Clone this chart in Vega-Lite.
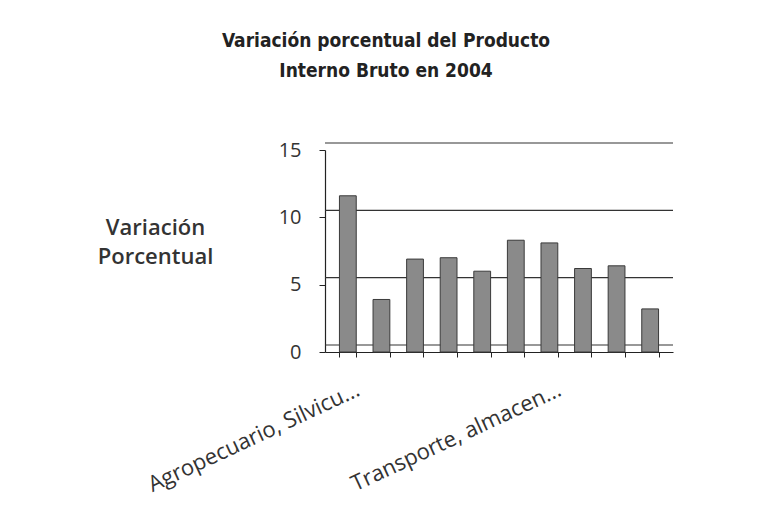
{
  "$schema": "https://vega.github.io/schema/vega-lite/v6.json",
  "autosize": "none",
  "width": 348,
  "height": 202,
  "padding": {"left": 325, "top": 150, "right": 84, "bottom": 154},
  "background": "white",
  "title": {
    "text": ["Variación porcentual del Producto", "Interno Bruto en 2004"],
    "font": "DejaVu Sans Condensed, Roboto, sans-serif",
    "fontWeight": "bold",
    "fontSize": 19,
    "color": "#222",
    "lineHeight": 30,
    "anchor": "middle",
    "frame": "group",
    "dx": -113,
    "offset": 59
  },
  "datasets": {
    "pib": [
      {"sector": "Agropecuario, Silvicultura y Pesca", "variacion": 11.6},
      {"sector": "Minería", "variacion": 3.9},
      {"sector": "Manufactura", "variacion": 6.9},
      {"sector": "Electricidad y Agua", "variacion": 7.0},
      {"sector": "Construcción", "variacion": 6.0},
      {"sector": "Comercio", "variacion": 8.3},
      {"sector": "Transporte, almacenamiento y comunicaciones", "variacion": 8.1},
      {"sector": "Establecimientos financieros", "variacion": 6.2},
      {"sector": "Servicios", "variacion": 6.4},
      {"sector": "Otros", "variacion": 3.2}
    ],
    "grid": [{"v": 0}, {"v": 5}, {"v": 10}, {"v": 15}]
  },
  "layer": [
    {
      "data": {"name": "grid"},
      "mark": {"type": "rule", "color": "#333", "strokeWidth": 1.2, "yOffset": -7},
      "encoding": {
        "y": {"field": "v", "type": "quantitative", "scale": {"domain": [0, 15]}}
      }
    },
    {
      "data": {"name": "pib"},
      "mark": {"type": "bar", "fill": "#8a8a8a", "stroke": "#3a3a3a", "strokeWidth": 1},
      "encoding": {
        "x": {
          "field": "sector",
          "type": "nominal",
          "sort": null,
          "scale": {"paddingInner": 0.5, "paddingOuter": 0.43},
          "axis": {
            "title": null,
            "labelExpr": "datum.index == 0 ? 'Agropecuario, Silvicu...' : (abs(datum.index - 6/9) < 0.01 ? 'Transporte, almacen...' : '')",
            "labelAngle": -25,
            "labelAlign": "right",
            "labelBaseline": "middle",
            "labelPadding": 31,
            "labelOffset": 10,
            "labelFont": "Open Sans",
            "labelFontSize": 22,
            "labelColor": "#333",
            "labelOverlap": false,
            "labelLimit": 400,
            "tickBand": "extent",
            "tickSize": 5,
            "tickColor": "#222",
            "domainColor": "#222",
            "domainWidth": 1.2
          }
        },
        "y": {
          "field": "variacion",
          "type": "quantitative",
          "scale": {"domain": [0, 15]},
          "axis": {
            "values": [0, 5, 10, 15],
            "grid": false,
            "title": ["Variación", "Porcentual"],
            "titleAngle": 0,
            "titleAlign": "center",
            "titleBaseline": "middle",
            "titleX": -170,
            "titleY": 77,
            "titleFont": "Open Sans",
            "titleFontSize": 22,
            "titleFontWeight": 600,
            "titleColor": "#333",
            "titleLineHeight": 29,
            "labelFont": "Open Sans",
            "labelFontSize": 20,
            "labelColor": "#333",
            "labelPadding": 18,
            "tickSize": 6,
            "tickColor": "#222",
            "domainColor": "#222",
            "domainWidth": 1.2
          }
        }
      }
    }
  ],
  "config": {"view": {"stroke": null}}
}
